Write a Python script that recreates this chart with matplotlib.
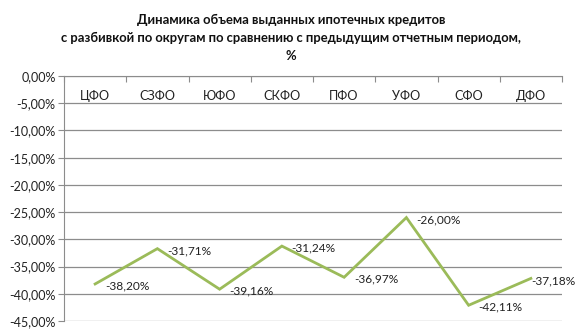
import matplotlib
matplotlib.use("Agg")
from matplotlib import pyplot as plt

plt.rcParams['font.family'] = ['Lato', 'DejaVu Sans']

districts = ["ЦФО", "СЗФО", "ЮФО", "СКФО", "ПФО", "УФО", "СФО", "ДФО"]
change_pct = [-38.20, -31.71, -39.16, -31.24, -36.97, -26.00, -42.11, -37.18]
y_ticks = [0, -5, -10, -15, -20, -25, -30, -35, -40, -45]

title = ("Динамика объема выданных ипотечных кредитов\n"
         "с разбивкой по округам по сравнению с предыдущим отчетным периодом,\n"
         "%")


def pct(v):
    return f"{v:.2f}%".replace(".", ",")


fig = plt.figure(figsize=(5.76, 3.36), dpi=100)
ax = fig.add_axes([64 / 576, 1 - 321 / 336, 498 / 576, 245 / 336])

x = list(range(len(districts)))
ax.plot(x, change_pct, color="#9BBB59", linewidth=2.0, solid_joinstyle="miter")

for xi, v in zip(x, change_pct):
    # the last label is pushed left so it stays inside the picture
    dx = 0 if xi == len(districts) - 1 else 7
    ax.annotate(pct(v), (xi, v), xytext=(dx, -1.5), textcoords="offset points",
                ha="left", va="center", fontsize=8.6, color="#222222",
                annotation_clip=False)

for xi, name in zip(x, districts):
    ax.text(xi, -3.6, name, ha="center", va="center", fontsize=9.2, color="#222222")

ax.set_xlim(-0.5, len(districts) - 0.5)
ax.set_ylim(-45, 0)
ax.set_yticks(y_ticks)
ax.set_yticklabels([pct(v) for v in y_ticks], fontsize=9, color="#222222")
ax.yaxis.grid(True, color="#8c8c8c", linewidth=0.9)
ax.set_axisbelow(True)

ax.xaxis.tick_top()
ax.set_xticks([i - 0.5 for i in range(len(districts) + 1)])
ax.set_xticklabels([])
ax.tick_params(axis="x", direction="in", length=4, color="#8c8c8c")
ax.tick_params(axis="y", length=4, pad=2, color="#8c8c8c")

for side in ["right", "bottom"]:
    ax.spines[side].set_visible(False)
ax.spines["left"].set_color("#8c8c8c")
ax.spines["top"].set_color("#8c8c8c")

fig.text(0.505, 1 - 38 / 336, title, ha="center", va="center", fontsize=9.4,
         fontweight="bold", linespacing=1.6, color="#111111")

fig.savefig("out.png", dpi=100)
